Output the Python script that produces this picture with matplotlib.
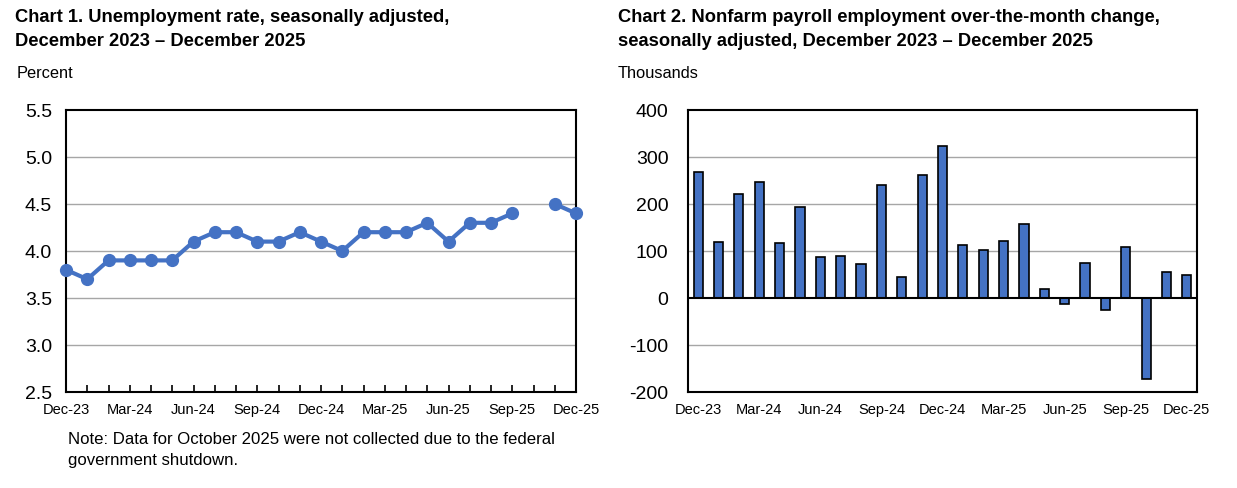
import numpy as np
import matplotlib
matplotlib.use("Agg")
import matplotlib.pyplot as plt

plt.rcParams['font.family'] = ['Liberation Sans', 'DejaVu Sans']

months = ["Dec-23", "Jan-24", "Feb-24", "Mar-24", "Apr-24", "May-24", "Jun-24", "Jul-24",
          "Aug-24", "Sep-24", "Oct-24", "Nov-24", "Dec-24", "Jan-25", "Feb-25", "Mar-25",
          "Apr-25", "May-25", "Jun-25", "Jul-25", "Aug-25", "Sep-25", "Oct-25", "Nov-25", "Dec-25"]
unemployment = [3.8, 3.7, 3.9, 3.9, 3.9, 3.9, 4.1, 4.2, 4.2, 4.1, 4.1, 4.2, 4.1,
                4.0, 4.2, 4.2, 4.2, 4.3, 4.1, 4.3, 4.3, 4.4, np.nan, 4.5, 4.4]
payroll = [269, 120, 222, 247, 118, 194, 88, 89, 72, 240, 44, 262, 323,
           112, 103, 121, 158, 19, -13, 74, -26, 109, -172, 56, 50]
tick_labels = ["Dec-23", "Mar-24", "Jun-24", "Sep-24", "Dec-24", "Mar-25", "Jun-25", "Sep-25", "Dec-25"]
y1_ticks = [2.5, 3.0, 3.5, 4.0, 4.5, 5.0, 5.5]
y2_ticks = [-200, -100, 0, 100, 200, 300, 400]

blue = "#4472C4"
grid_c = "#A6A6A6"

fig = plt.figure(figsize=(12.37, 4.89), dpi=100)
W, H = 1237, 489

def ax_rect(l, r, t, b):
    return [l / W, 1 - b / H, (r - l) / W, (b - t) / H]

x = np.arange(len(months))
label_pos = [months.index(m) for m in tick_labels]

# Chart 1
ax1 = fig.add_axes(ax_rect(66, 576, 111, 393))
ax1.plot(x, unemployment, color=blue, lw=3, marker='o', ms=8.5, zorder=3, clip_on=False)
ax1.set_xlim(0, 24)
ax1.set_ylim(2.5, 5.5)
ax1.set_yticks(y1_ticks)
ax1.set_yticklabels([f"{v:.1f}" for v in y1_ticks], fontsize=14)
ax1.set_xticks(x, minor=True)
ax1.set_xticks(label_pos)
ax1.set_xticklabels(tick_labels, fontsize=10.5)
ax1.tick_params(axis='x', which='both', direction='in', length=5, width=1.2, pad=7)
ax1.tick_params(axis='y', length=0, pad=10)
for v in y1_ticks[1:-1]:
    ax1.axhline(v, color=grid_c, lw=1, zorder=1)
for s in ax1.spines.values():
    s.set_linewidth(1.5)

fig.text(15 / W, 1 - 18 / H, "Chart 1. Unemployment rate, seasonally adjusted,",
         fontsize=13.2, fontweight='bold', va='center', ha='left')
fig.text(15 / W, 1 - 42 / H, "December 2023 \u2013 December 2025",
         fontsize=13.2, fontweight='bold', va='center', ha='left')
fig.text(17 / W, 1 - 74 / H, "Percent", fontsize=11.8, va='center', ha='left')
fig.text(68 / W, 1 - 440 / H, "Note: Data for October 2025 were not collected due to the federal",
         fontsize=12.1, va='center', ha='left')
fig.text(68 / W, 1 - 461 / H, "government shutdown.", fontsize=12.1, va='center', ha='left')

# Chart 2
ax2 = fig.add_axes(ax_rect(688, 1197, 111, 393))
ax2.bar(x, payroll, width=0.45, color=blue, edgecolor='black', lw=1.2, zorder=3)
ax2.set_xlim(-0.5, 24.5)
ax2.set_ylim(-200, 400)
ax2.set_yticks(y2_ticks)
ax2.set_yticklabels([str(v) for v in y2_ticks], fontsize=14)
ax2.set_xticks(label_pos)
ax2.set_xticklabels(tick_labels, fontsize=10.5)
ax2.tick_params(axis='x', length=0, pad=7)
ax2.tick_params(axis='y', length=0, pad=14)
for v in y2_ticks[1:-1]:
    if v != 0:
        ax2.axhline(v, color=grid_c, lw=1, zorder=1)
ax2.axhline(0, color='black', lw=1.5, zorder=4)
for s in ax2.spines.values():
    s.set_linewidth(1.5)

fig.text(618 / W, 1 - 18 / H, "Chart 2. Nonfarm payroll employment over-the-month change,",
         fontsize=13.2, fontweight='bold', va='center', ha='left')
fig.text(618 / W, 1 - 42 / H, "seasonally adjusted, December 2023 \u2013 December 2025",
         fontsize=13.2, fontweight='bold', va='center', ha='left')
fig.text(618 / W, 1 - 74 / H, "Thousands", fontsize=11.8, va='center', ha='left')

fig.savefig("out.png", dpi=100, facecolor='white')
